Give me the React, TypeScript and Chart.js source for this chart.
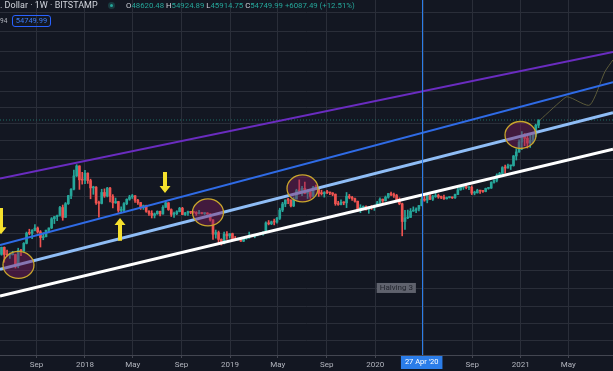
import React, { useEffect, useRef } from "react";
import { Chart, registerables } from "chart.js";
Chart.register(...registerables);

// Time axis: days relative to 2018-01-01 (Monday). First weekly candle = 2017-06-05.
const FIRST_WEEK_DAY = -210;
const WEEK_DAYS = 7;
const X_MIN = -213.8;
const X_MAX = 1328.3;
const Y_MIN = 251;
const Y_MAX = 856000;

// Weekly OHLC (BTC/USD, Bitstamp), Jun 2017 – Feb 2021
const opens = [
  2520, 2960, 2510, 2480, 2500, 2510, 1930, 2750, 2720, 3240, 4100, 4080, 4360, 4600, 4220, 3700, 3780, 4380, 4610, 5700,
  5980, 6130, 7370, 5880, 8050, 9680, 11200, 15200, 19100, 13900, 13800, 16200, 13650, 11550, 11750, 8200, 8100, 10400, 9600, 11500,
  9500, 8200, 8450, 6900, 6900, 8050, 8900, 9400, 9650, 8700, 8250, 7350, 7700, 6750, 6450, 6150, 6380, 6750, 6350, 7400,
  8200, 7030, 6300, 6400, 6700, 7250, 6270, 6500, 6700, 6600, 6580, 6400, 6470, 6420, 6450, 6350, 5550, 4000, 4150, 3550,
  3250, 4000, 3850, 4050, 3560, 3530, 3540, 3410, 3650, 3670, 3850, 3830, 3930, 4010, 4020, 4140, 5180, 5070, 5310, 5280,
  5750, 6950, 8000, 8750, 8720, 7650, 8950, 10850, 10750, 11450, 10200, 10550, 9500, 11800, 11400, 10200, 10120, 10380, 10350, 10300,
  10000, 8050, 7900, 8300, 8200, 9550, 9300, 9050, 8500, 7050, 7400, 7520, 7100, 7450, 7400, 7760, 8180, 8920, 8600, 9330,
  10150, 9900, 9700, 8530, 8030, 5350, 5800, 5880, 6780, 6900, 7130, 7700, 8900, 8730, 9700, 8900, 9450, 9700, 9400, 9300,
  9000, 9250, 9300, 9200, 9930, 11050, 11700, 11900, 11650, 11700, 10250, 10320, 10900, 10750, 10650, 11400, 11500, 13100, 13750, 15500,
  16050, 18400, 18200, 19150, 19250, 24000, 26350, 33000, 38200, 36000, 32250, 34300, 38900, 48620.48,
];
const highs = [
  2980, 2990, 2780, 2600, 2700, 2530, 2900, 2830, 3300, 4200, 4480, 4450, 4980, 4720, 4350, 4130, 4400, 4620, 5850, 6000,
  6180, 7590, 7800, 8260, 9750, 11400, 17400, 19660, 19200, 16500, 17250, 16300, 14100, 12000, 11900, 8550, 11200, 11300, 11700, 11700,
  9900, 9150, 8500, 7500, 8250, 9000, 9750, 9950, 9700, 8900, 8300, 7800, 7780, 6850, 6850, 6500, 6830, 6800, 7700, 8500,
  8250, 7150, 6650, 6850, 7400, 7400, 6600, 6780, 6750, 6680, 6700, 6900, 6550, 6500, 6550, 6400, 5600, 4400, 4300, 3600,
  4200, 4250, 4050, 4100, 3800, 3650, 3550, 3700, 3700, 4200, 3900, 3950, 4050, 4080, 4250, 5300, 5470, 5400, 5650, 5900,
  7250, 8300, 8800, 9090, 8820, 9350, 11200, 13880, 12000, 13200, 11100, 10650, 11950, 12300, 11450, 10950, 10600, 10900, 10450, 10350,
  10050, 8500, 8800, 8400, 10400, 9950, 9500, 9150, 8550, 7850, 7650, 7650, 7500, 7700, 7800, 8470, 9200, 8950, 9600, 10180,
  10500, 10250, 9950, 9200, 8150, 6900, 6950, 7200, 7480, 7300, 7750, 9450, 10050, 9950, 9900, 9750, 10400, 10000, 9550, 9800,
  9350, 9450, 9350, 10000, 11450, 11900, 12100, 12500, 11800, 12100, 10700, 11200, 10950, 10950, 11500, 11700, 13300, 14000, 15950, 16500,
  18800, 19500, 19900, 19400, 24300, 28400, 34800, 41950, 40100, 37850, 38500, 40900, 49700, 54924.89,
];
const lows = [
  2470, 2100, 2420, 2300, 2480, 1840, 1850, 2450, 2650, 3200, 3950, 3600, 4320, 4100, 2980, 3520, 3750, 4150, 4550, 5100,
  5460, 6050, 5500, 5850, 7900, 9000, 11050, 15000, 11160, 12600, 12750, 12800, 9000, 9970, 7900, 5900, 8000, 9300, 9400, 8400,
  7300, 8100, 6600, 6500, 6600, 7850, 8700, 9050, 8300, 7930, 7050, 7050, 6600, 6150, 5800, 5800, 6300, 6070, 6330, 7400,
  6900, 6000, 5880, 6250, 6660, 6250, 6150, 6150, 6400, 6450, 6150, 6350, 6380, 6270, 6300, 5400, 3550, 3650, 3250, 3120,
  3200, 3550, 3650, 3550, 3500, 3480, 3380, 3370, 3560, 3660, 3750, 3680, 3850, 3950, 3920, 4120, 4950, 4980, 4950, 5150,
  5600, 6700, 7500, 8050, 7450, 7520, 8950, 10300, 9650, 10100, 9050, 9100, 9400, 11100, 9500, 9800, 9350, 10100, 9900, 9650,
  7750, 7750, 7800, 7850, 7350, 9000, 8650, 8350, 6800, 6550, 7200, 6950, 6450, 7050, 6900, 7670, 8100, 8250, 8550, 9120,
  9650, 9300, 8400, 7850, 3850, 4450, 5700, 5860, 6750, 6550, 6800, 7650, 8500, 8200, 8800, 8650, 9300, 9100, 9000, 8850,
  8950, 9150, 9050, 9100, 9900, 10950, 11150, 11300, 11100, 9900, 9850, 10250, 10150, 10400, 10550, 11200, 11400, 12900, 13250, 14800,
  15800, 16200, 18100, 17600, 19000, 21850, 26100, 27700, 30400, 28800, 29200, 32300, 37300, 45914.75,
];
const closes = [
  2960, 2510, 2480, 2500, 2510, 1930, 2750, 2720, 3240, 4100, 4080, 4360, 4600, 4220, 3700, 3780, 4380, 4610, 5700, 5980,
  6130, 7370, 5880, 8050, 9680, 11200, 15200, 19100, 13900, 13800, 16200, 13650, 11550, 11750, 8200, 8100, 10400, 9600, 11500, 9500,
  8200, 8450, 6900, 6900, 8050, 8900, 9400, 9650, 8700, 8250, 7350, 7700, 6750, 6450, 6150, 6380, 6750, 6350, 7400, 8200,
  7030, 6300, 6400, 6700, 7250, 6270, 6500, 6700, 6600, 6580, 6400, 6470, 6420, 6450, 6350, 5550, 4000, 4150, 3550, 3250,
  4000, 3850, 4050, 3560, 3530, 3540, 3410, 3650, 3670, 3850, 3830, 3930, 4010, 4020, 4140, 5180, 5070, 5310, 5280, 5750,
  6950, 8000, 8750, 8720, 7650, 8950, 10850, 10750, 11450, 10200, 10550, 9500, 11800, 11400, 10200, 10120, 10380, 10350, 10300, 10000,
  8050, 7900, 8300, 8200, 9550, 9300, 9050, 8500, 7050, 7400, 7520, 7100, 7450, 7400, 7760, 8180, 8920, 8600, 9330, 10150,
  9900, 9700, 8530, 8030, 5350, 5800, 5880, 6780, 6900, 7130, 7700, 8900, 8730, 9700, 8900, 9450, 9700, 9400, 9300, 9000,
  9250, 9300, 9200, 9930, 11050, 11700, 11900, 11650, 11700, 10250, 10320, 10900, 10750, 10650, 11400, 11500, 13100, 13750, 15500, 16050,
  18400, 18200, 19150, 19250, 24000, 26350, 33000, 38200, 36000, 32250, 34300, 38900, 48620, 54749.99,
];

// Trend lines: price at left edge and right edge of the visible time range
const trendNames = ["purple", "blue", "lightBlue", "white"];
const trendStartPrices = [14330, 3124, 1789, 971];
const trendEndPrices = [260000, 130200, 64700, 27980];
const trendColors = ["#6a2cc0", "#2f6be6", "#8fbdf6", "#ffffff"];
const trendWidths = [2, 2, 3, 3];

// Projection path drawn after the last candle
const pathDays = [1145, 1210, 1222, 1270, 1308, 1328];
const pathPrices = [54900, 92800, 91000, 77200, 165700, 216500];

const lastClose = 54749.99;

// Highlight ellipses (centre)
const ellipseDays = [-167.3, 309.4, 547.2, 1095.6];
const ellipsePrices = [1975, 6577, 11400, 38830];

// Yellow arrows: day, tail price, tip price
const arrowDays = [-211.3, 201.3, 88.1];
const arrowTailPrices = [7300, 16635, 3450];
const arrowTipPrices = [4000, 10280, 5800];

// Crosshair & halving label
const crosshairDay = 847; // 27 Apr 2020
const crosshairLabel = "27 Apr '20";
const halvingLabel = "Halving 3";
const halvingDay = 733.8;
const halvingPrice = 1166;

// Axis ticks
const monthTickDays = [-122, 0, 120, 243, 365, 485, 608, 730, 851, 974, 1096, 1216];
const monthTickLabels = ["Sep", "2018", "May", "Sep", "2019", "May", "Sep", "2020", "", "Sep", "2021", "May"];
const gridPrices = [650000, 414000, 262000, 165000, 106000, 72600, 50800, 33900, 21900, 14500, 9500, 6200, 4070, 2660, 1740, 1140, 771, 522, 346];

// Header
const titleText = ". Dollar · 1W · BITSTAMP";
const ohlcLabels = ["O", "H", "L", "C"];
const ohlcValues = ["48620.48", "54924.89", "45914.75", "54749.99"];
const changeText = "+6087.49 (+12.51%)";
const leftScrap = "94";
const priceBoxText = "54749.99";

const UP = "#26a69a";
const DOWN = "#ef5350";

const annotationPlugin = {
  id: "tvAnnotations",
  beforeDraw(chart: any) {
    const { ctx, width, height } = chart;
    ctx.save();
    ctx.fillStyle = "#131722";
    ctx.fillRect(0, 0, width, height);
    ctx.restore();
  },
  afterDatasetsDraw(chart: any) {
    const { ctx, chartArea } = chart;
    const xs = chart.scales.x;
    const ys = chart.scales.y;
    ctx.save();
    ctx.beginPath();
    ctx.rect(chartArea.left, chartArea.top, chartArea.right - chartArea.left, chartArea.bottom - chartArea.top);
    ctx.clip();

    // crosshair vertical line
    const cx = Math.round(xs.getPixelForValue(crosshairDay)) + 0.5;
    ctx.strokeStyle = "#2b7de9";
    ctx.lineWidth = 1;
    ctx.beginPath();
    ctx.moveTo(cx, chartArea.top);
    ctx.lineTo(cx, chartArea.bottom);
    ctx.stroke();

    // ellipses
    ellipseDays.forEach((d, i) => {
      const px = xs.getPixelForValue(d);
      const py = ys.getPixelForValue(ellipsePrices[i]);
      ctx.beginPath();
      ctx.ellipse(px, py, 15.5, 13.5, 0, 0, Math.PI * 2);
      ctx.fillStyle = "rgba(125, 32, 95, 0.45)";
      ctx.fill();
      ctx.strokeStyle = "#c9a62c";
      ctx.lineWidth = 1.3;
      ctx.stroke();
    });

    // arrows
    arrowDays.forEach((d, i) => {
      const px = xs.getPixelForValue(d);
      const tail = ys.getPixelForValue(arrowTailPrices[i]);
      const tip = ys.getPixelForValue(arrowTipPrices[i]);
      const dir = Math.sign(tip - tail);
      const headLen = 7;
      const headHalf = 5.5;
      const shaftHalf = 2;
      const baseY = tip - dir * headLen;
      ctx.beginPath();
      ctx.moveTo(px - shaftHalf, tail);
      ctx.lineTo(px + shaftHalf, tail);
      ctx.lineTo(px + shaftHalf, baseY);
      ctx.lineTo(px + headHalf, baseY);
      ctx.lineTo(px, tip);
      ctx.lineTo(px - headHalf, baseY);
      ctx.lineTo(px - shaftHalf, baseY);
      ctx.closePath();
      ctx.fillStyle = "#f6e12d";
      ctx.fill();
    });

    // halving label
    const hx = xs.getPixelForValue(halvingDay);
    const hy = ys.getPixelForValue(halvingPrice);
    ctx.font = "8px Roboto, 'Noto Sans', sans-serif";
    const tw = ctx.measureText(halvingLabel).width;
    ctx.fillStyle = "#5f626d";
    ctx.fillRect(hx, hy - 5, tw + 6, 10);
    ctx.fillStyle = "#22252e";
    ctx.textBaseline = "middle";
    ctx.fillText(halvingLabel, hx + 3, hy + 0.5);
    ctx.restore();
  },
  afterDraw(chart: any) {
    const { ctx, chartArea } = chart;
    const xs = chart.scales.x;
    const cx = xs.getPixelForValue(crosshairDay);
    ctx.save();
    ctx.font = "7.5px Roboto, 'Noto Sans', sans-serif";
    const tw = ctx.measureText(crosshairLabel).width;
    const w = tw + 8;
    ctx.fillStyle = "#2b7de9";
    ctx.fillRect(cx - w / 2, chartArea.bottom + 1, w, 13);
    ctx.fillStyle = "#ffffff";
    ctx.textAlign = "center";
    ctx.textBaseline = "middle";
    ctx.fillText(crosshairLabel, cx, chartArea.bottom + 7.5);
    ctx.restore();
  },
};

export default function App() {
  const canvasRef = useRef<HTMLCanvasElement | null>(null);

  useEffect(() => {
    document.body.style.margin = "0";
    document.body.style.background = "#131722";
    const canvas = canvasRef.current;
    if (!canvas) return;

    const dayOf = (i: number) => FIRST_WEEK_DAY + WEEK_DAYS * i;
    const candleColors = closes.map((c, i) => (c >= opens[i] ? UP : DOWN));

    const trendDatasets = trendNames.map((name, i) => ({
      type: "line" as const,
      label: name,
      data: [
        { x: X_MIN, y: trendStartPrices[i] },
        { x: X_MAX, y: trendEndPrices[i] },
      ],
      borderColor: trendColors[i],
      borderWidth: trendWidths[i],
      pointRadius: 0,
      fill: false,
      order: 0,
    }));

    const chart = new Chart(canvas, {
      type: "bar",
      data: {
        datasets: [
          ...trendDatasets,
          {
            type: "line",
            label: "path",
            data: pathDays.map((d, i) => ({ x: d, y: pathPrices[i] })),
            borderColor: "#5b5a3a",
            borderWidth: 1,
            pointRadius: 0,
            tension: 0.22,
            fill: false,
            order: 1,
          },
          {
            type: "line",
            label: "last",
            data: [
              { x: X_MIN, y: lastClose },
              { x: X_MAX, y: lastClose },
            ],
            borderColor: "#1f6f68",
            borderWidth: 1,
            borderDash: [1, 2],
            pointRadius: 0,
            fill: false,
            order: 2,
          },
          {
            type: "bar",
            label: "body",
            data: opens.map((o, i) => ({ x: dayOf(i), y: [o, closes[i]] })),
            backgroundColor: candleColors,
            barThickness: 2,
            grouped: false,
            minBarLength: 1,
            order: 5,
          },
          {
            type: "bar",
            label: "wick",
            data: lows.map((l, i) => ({ x: dayOf(i), y: [l, highs[i]] })),
            backgroundColor: candleColors,
            barThickness: 1,
            grouped: false,
            order: 6,
          },
        ] as any,
      },
      options: {
        responsive: false,
        animation: false,
        events: [],
        layout: { padding: 0 },
        plugins: { legend: { display: false }, tooltip: { enabled: false } },
        scales: {
          x: {
            type: "linear",
            min: X_MIN,
            max: X_MAX,
            offset: false,
            grid: { color: "#2a2e39", offset: false, tickLength: 3, tickColor: "#434651" },
            border: { color: "#434651" },
            ticks: {
              color: "#b2b5be",
              font: { size: 8, family: "Roboto, 'Noto Sans', sans-serif" },
              padding: 2,
              maxRotation: 0,
              autoSkip: false,
              callback: (_v: any, i: number) => monthTickLabels[i],
            },
            afterBuildTicks: (s: any) => {
              s.ticks = monthTickDays.map((v) => ({ value: v }));
            },
            afterFit: (s: any) => {
              s.height = 16;
            },
          },
          y: {
            type: "logarithmic",
            position: "right",
            min: Y_MIN,
            max: Y_MAX,
            grid: { color: "#2a2e39", drawTicks: false },
            border: { display: false },
            ticks: { display: false },
            afterBuildTicks: (s: any) => {
              s.ticks = gridPrices.map((v) => ({ value: v }));
            },
            afterFit: (s: any) => {
              s.width = 0;
            },
          },
        },
      } as any,
      plugins: [annotationPlugin],
    });
    return () => chart.destroy();
  }, []);

  const font = "Roboto, 'Noto Sans', sans-serif";
  return (
    <div style={{ position: "fixed", left: 0, top: 0, width: 613, height: 371, background: "#131722", overflow: "hidden" }}>
      <canvas ref={canvasRef} width={613} height={371} style={{ display: "block" }} />
      <div style={{ position: "absolute", left: 0, top: 0, width: 613, height: 30, pointerEvents: "none", fontFamily: font }}>
        <div style={{ position: "absolute", left: 0, top: 0, fontSize: 9, lineHeight: "11px", color: "#d1d4dc", whiteSpace: "nowrap" }}>
          {titleText}
        </div>
        <div style={{ position: "absolute", left: 108, top: 2, width: 7, height: 7, borderRadius: "50%", background: "rgba(38,166,154,0.25)" }}>
          <div style={{ position: "absolute", left: 2, top: 2, width: 3, height: 3, borderRadius: "50%", background: UP }} />
        </div>
        <div style={{ position: "absolute", left: 126, top: 0, fontSize: 7.8, lineHeight: "11px", whiteSpace: "nowrap" }}>
          {ohlcLabels.map((l, i) => (
            <span key={l}>
              <span style={{ color: "#d1d4dc" }}>{l}</span>
              <span style={{ color: UP }}>{ohlcValues[i]}</span>{" "}
            </span>
          ))}
          <span style={{ color: UP }}>{changeText}</span>
        </div>
        <div style={{ position: "absolute", left: 0, top: 16, fontSize: 6.5, lineHeight: "10px", color: "#b2b5be" }}>{leftScrap}</div>
        <div
          style={{
            position: "absolute",
            left: 12,
            top: 15,
            width: 39,
            height: 12,
            boxSizing: "border-box",
            border: "1px solid #2962ff",
            borderRadius: 3,
            color: "#3d7cf6",
            fontSize: 7.5,
            lineHeight: "10px",
            textAlign: "center",
          }}
        >
          {priceBoxText}
        </div>
      </div>
    </div>
  );
}
